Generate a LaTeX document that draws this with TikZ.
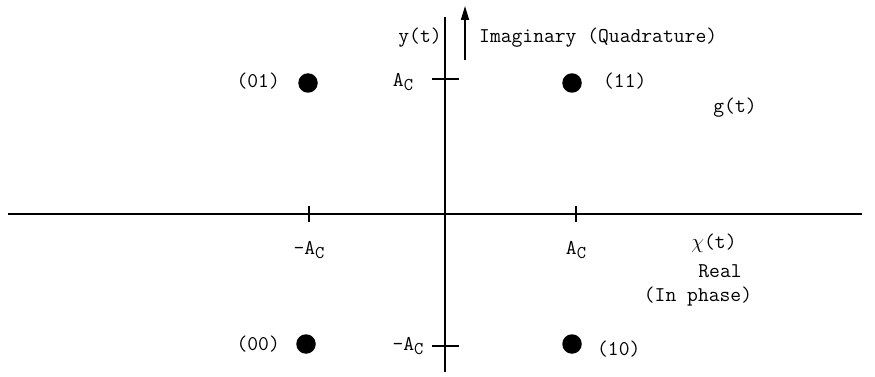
\documentclass[tikz,border=0pt]{standalone}
\usepackage{fontspec}
\usetikzlibrary{arrows.meta, positioning}
\newcommand{\Ac}{A\raisebox{-0.45ex}{\fontsize{18}{18}\selectfont C}}
\tikzset{
  ax/.style={draw=black, line width=1.7pt},
  tk/.style={draw=black, line width=1.7pt},
  pt/.style={circle, fill=black, minimum size=19.5pt, inner sep=0pt},
  lb/.style={font=\ttfamily\fontsize{21}{24}\selectfont, inner sep=1pt},
  ar/.style={-{Triangle[length=14pt, width=8pt]}, line width=1.7pt},
}
\begin{document}
\begin{tikzpicture}[x=1pt, y=-1pt]
\useasboundingbox (0,0) rectangle (875,377);
\coordinate (xl) at (8,214);
\coordinate (xr) at (862,214);
\coordinate (yt) at (445,17);
\coordinate (yb) at (445,372);
\coordinate (qa) at (465,60);
\coordinate (qb) at (465,6);
\draw[ax] (xl) -- (xr);
\draw[ax] (yb) -- (yt);
\draw[ar] (qa) -- (qb);
\foreach \x in {309,576} \draw[tk] (\x,206) -- (\x,222);
\foreach \y in {79,346} \draw[tk] (432,\y) -- (459,\y);

\node[pt] (p01) at (308,83) {};
\node[pt] (p11) at (572,83) {};
\node[pt] (p00) at (306,344) {};
\node[pt] (p10) at (572,344) {};
\node[lb, left=17pt of p01, yshift=2pt] (l01) {(01)};
\node[lb, right=20pt of p11, yshift=2pt] (l11) {(11)};
\node[lb, left=15pt of p00] (l00) {(00)};
\node[lb, right=14pt of p10, yshift=-5pt] (l10) {(10)};

\node[lb] (ya) at (403,82) {\Ac};
\node[lb] (yma) at (408,346) {-\Ac};
\node[lb] (xma) at (309,250) {-\Ac};
\node[lb] (xa) at (576,250) {\Ac};

\node[lb] (yt1) at (420,38) {y(t)};
\node[lb, anchor=west] (im) at (478,38) {Imaginary (Quadrature)};
\node[lb] (gt) at (735,108) {g(t)};
\node[lb] (chi) at (714,243) {$\chi$(t)};
\node[lb] (re) at (720,271) {Real};
\node[lb] (ph) at (698,297) {(In phase)};
\end{tikzpicture}
\end{document}
